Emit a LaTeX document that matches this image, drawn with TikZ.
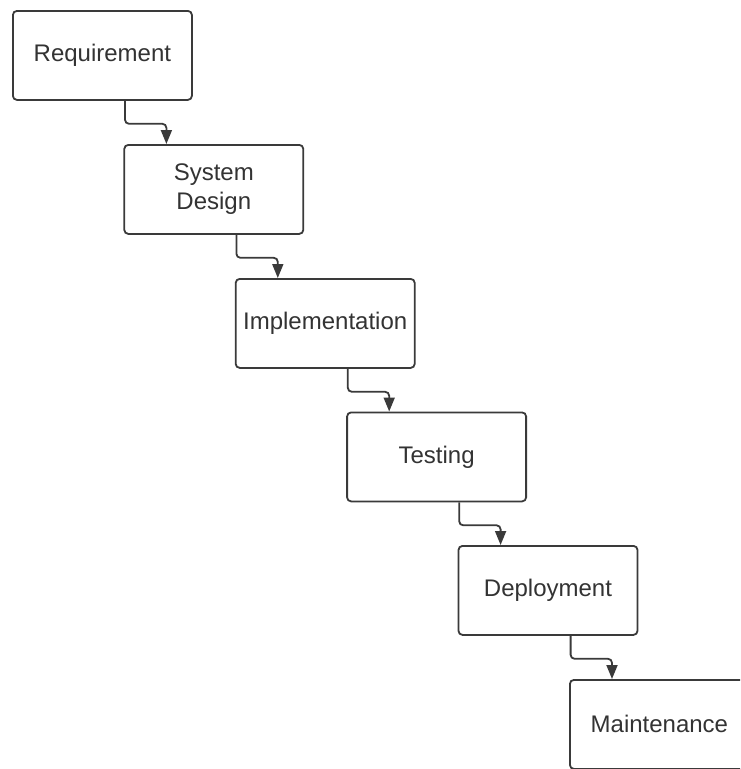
\documentclass[tikz,border=0pt]{standalone}
\usepackage{fontspec}
\setmainfont{Liberation Sans}
\usetikzlibrary{arrows.meta}
\definecolor{linec}{HTML}{3A3A3A}
\definecolor{textc}{HTML}{333333}
\tikzset{
  stage/.style={draw=linec, line width=1.8pt, rounded corners=4pt, fill=white,
    minimum width=179pt, minimum height=89pt, inner sep=0pt, anchor=north west,
    text=textc, font=\fontsize{24}{29}\selectfont, align=center},
  conn/.style={draw=linec, line width=1.8pt, rounded corners=4pt,
    -{Triangle[length=14pt,width=11pt]}},
}
\begin{document}
\begin{tikzpicture}[x=1pt,y=-1pt]
\useasboundingbox (0,0) rectangle (740,769);
\clip (0,0) rectangle (740,769);
\node[stage] (n1) at (12,10) {Requirement};
\node[stage] (n2) at (123.4,144) {System\\Design};
\node[stage] (n3) at (234.8,278) {Implementation};
\node[stage] (n4) at (346.2,411.5) {Testing};
\node[stage] (n5) at (457.6,545) {Deployment};
\node[stage] (n6) at (569,679) {Maintenance};
\foreach \a/\b in {n1/n2,n2/n3,n3/n4,n4/n5,n5/n6}{
  \draw[conn] ([xshift=113pt]\a.south west) -- ++(0,23) -| ([xshift=43pt]\b.north west);
}
\end{tikzpicture}
\end{document}
